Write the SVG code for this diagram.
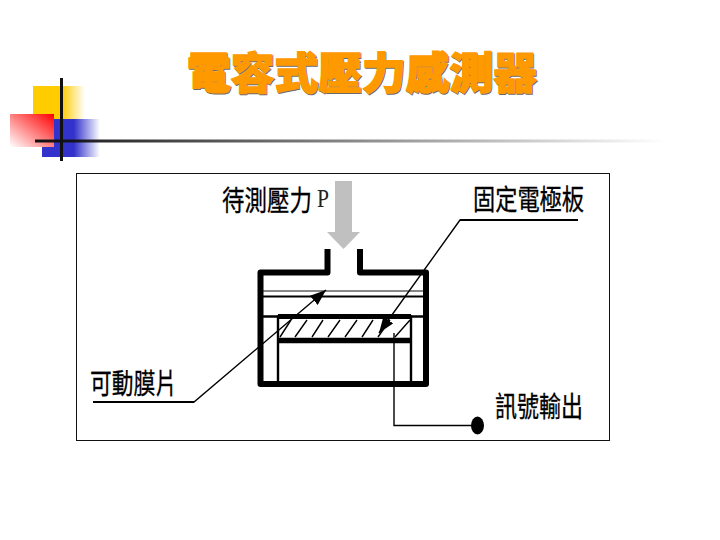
<svg xmlns="http://www.w3.org/2000/svg" width="720" height="540" viewBox="0 0 720 540">
<style>
.lab{font-family:"Noto Sans CJK TC","Noto Sans CJK SC",sans-serif;font-size:24px;fill:#000;stroke:#000;stroke-width:.25px}
.title{font-family:"Noto Sans CJK TC","Noto Sans CJK SC",sans-serif;font-size:43px;font-weight:900;fill:#f90;stroke:#f90;stroke-width:1.4px}
.shadow{fill:#6b6b6b;stroke:#6b6b6b}
.w5{fill:none;stroke:#000;stroke-width:6;stroke-linejoin:round}
.w3{fill:none;stroke:#000;stroke-width:2.4}
.w1{fill:none;stroke:#000;stroke-width:1.4}
</style>
<defs>
<linearGradient id="gy" x1="0" x2="1" y1="0" y2="0"><stop offset="0" stop-color="#fc0"/><stop offset=".55" stop-color="#fc0"/><stop offset="1" stop-color="#fc0" stop-opacity="0"/></linearGradient>
<linearGradient id="gb" x1="0" x2="1" y1="0" y2="0"><stop offset="0" stop-color="#33c"/><stop offset=".55" stop-color="#33c"/><stop offset="1" stop-color="#33c" stop-opacity="0"/></linearGradient>
<linearGradient id="gr" x1="1" x2="0" y1="0" y2="1"><stop offset="0" stop-color="#f00"/><stop offset="1" stop-color="#fff"/></linearGradient>
<linearGradient id="gl" x1="0" x2="1" y1="0" y2="0"><stop offset="0" stop-color="#111"/><stop offset="1" stop-color="#111" stop-opacity="0"/></linearGradient>
<marker id="ah" markerUnits="userSpaceOnUse" markerWidth="17" markerHeight="12" refX="16" refY="6" orient="auto"><path d="M0 0L16 6L0 12Z" fill="#000"/></marker>
</defs>

<g id="decoration">
<rect x="33" y="86" width="52" height="33" fill="url(#gy)"/>
<rect x="42" y="119" width="58" height="38" fill="url(#gb)"/>
<rect x="10" y="114" width="44" height="33" fill="url(#gr)"/>
<rect x="35" y="139.500" width="630" height="3" fill="url(#gl)"/>
<rect x="60" y="78" width="3" height="83" fill="#111"/>
</g>

<g id="title">
<text class="title shadow" x="187.700" y="89.700" textLength="350" lengthAdjust="spacingAndGlyphs">電容式壓力感測器</text>
<text class="title" x="187" y="89" textLength="350" lengthAdjust="spacingAndGlyphs">電容式壓力感測器</text>
</g>

<rect id="frame" x="76.500" y="173.500" width="533" height="267" fill="#fff" stroke="#111" stroke-width="1"/>

<g id="pressure-arrow"><path d="M335 181H352V232H360L343.500 249L327 232H335Z" fill="#c0c0c0"/></g>

<g id="sensor-body">
<path class="w5" d="M327.500 249V272.500H260.500V384H426V272.500H360V249"/>
<path d="M263 291H424" stroke="#111" stroke-width="1" fill="none"/>
<path d="M263 296.500H424" stroke="#000" stroke-width="2" fill="none"/>
<path class="w3" d="M263 316.500H424"/>
</g>

<g id="fixed-electrode">
<path d="M278 384V316.500H411V384" fill="none" stroke="#000" stroke-width="2.400"/>
<path d="M278 316.500H411" stroke="#000" stroke-width="5"/>
<path d="M278 340.500H411" stroke="#000" stroke-width="5.500"/>
<path class="w1" d="M280 337L291 320M295 337L307 320M312 337L323 320M328 337L340 320M345 337L357 320M362 337L373 320M378 337L390 320M395 337L410 320"/>
</g>

<g id="connectors">
<path class="w1" d="M93 402H194L326 290" marker-end="url(#ah)"/>
<path class="w1" d="M578 220H460L379 333" marker-end="url(#ah)"/>
<path d="M93 402H194M578 220H460" stroke="#000" stroke-width="2" fill="none"/>
<path class="w1" d="M394 333V425.500H472"/>
</g>

<g id="signal-terminal"><ellipse cx="477.500" cy="425.500" rx="6.500" ry="9" fill="#000"/></g>

<g id="labels">
<text class="lab" transform="translate(222 211) scale(1 1.200)" textLength="90" lengthAdjust="spacingAndGlyphs">待測壓力</text>
<text transform="translate(317 207) scale(1 1.300)" font-family="Liberation Serif,serif" font-size="20" fill="#222" textLength="12" lengthAdjust="spacingAndGlyphs">P</text>
<text class="lab" transform="translate(473 210) scale(1 1.200)" textLength="111" lengthAdjust="spacingAndGlyphs">固定電極板</text>
<text class="lab" transform="translate(90 394) scale(1 1.200)" textLength="87" lengthAdjust="spacingAndGlyphs">可動膜片</text>
<text class="lab" transform="translate(495 417) scale(1 1.200)" textLength="88" lengthAdjust="spacingAndGlyphs">訊號輸出</text>
</g>
</svg>
